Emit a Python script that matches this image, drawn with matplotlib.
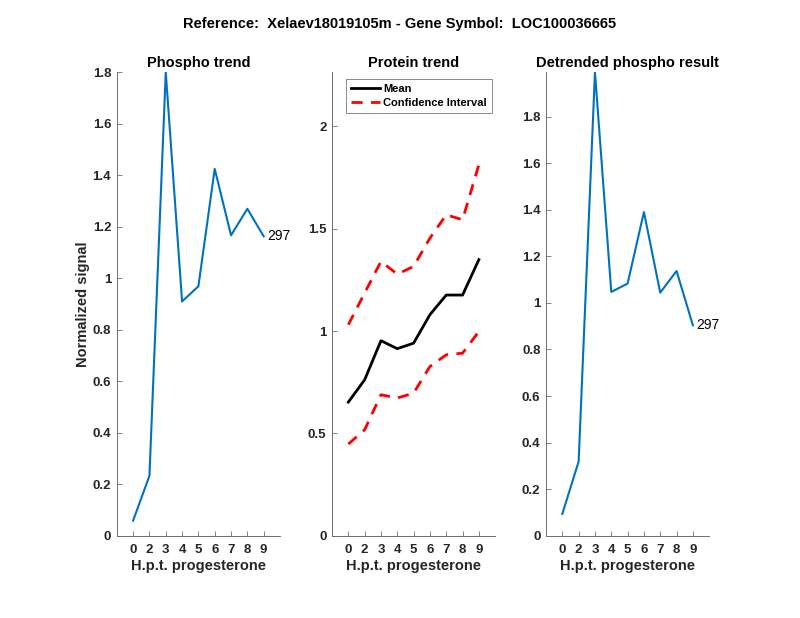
import matplotlib.pyplot as plt

plt.rcParams['font.family'] = ['Liberation Sans', 'DejaVu Sans']

hours = ['0', '2', '3', '4', '5', '6', '7', '8', '9']
phospho = [0.059, 0.233, 1.80, 0.91, 0.969, 1.425, 1.167, 1.27, 1.163]
protein_mean = [0.653, 0.762, 0.953, 0.914, 0.941, 1.08, 1.176, 1.176, 1.349]
protein_upper = [1.031, 1.186, 1.340, 1.278, 1.316, 1.454, 1.568, 1.544, 1.813]
protein_lower = [0.448, 0.518, 0.689, 0.673, 0.697, 0.827, 0.884, 0.892, 0.998]
detrended = [0.094, 0.319, 1.99, 1.047, 1.083, 1.39, 1.044, 1.137, 0.904]
site_label = '297'

blue = '#0072BD'
axcol = '#262626'
spinecol = '#6e6e6e'

fig = plt.figure(figsize=(8, 6.18), dpi=100)
fig.suptitle('Reference:  Xelaev18019105m - Gene Symbol:  LOC100036665',
             y=0.972, fontsize=10.5, fontweight='bold')

lefts = [0.146, 0.415, 0.6825]
axes = [fig.add_axes([l, 0.133, 0.204, 0.75]) for l in lefts]
xpos = list(range(1, len(hours) + 1))


def style(ax, title, yticks, ylabels):
    ax.set_xlim(0, 10)
    ax.set_xticks(xpos)
    ax.set_xticklabels(hours)
    ax.set_yticks(yticks)
    ax.set_yticklabels(ylabels)
    for s in ['top', 'right']:
        ax.spines[s].set_visible(False)
    for s in ['left', 'bottom']:
        ax.spines[s].set_color(spinecol)
        ax.spines[s].set_linewidth(0.7)
    ax.tick_params(direction='in', length=3.5, width=0.6, color=spinecol,
                   labelcolor=axcol, labelsize=9.5)
    ax.tick_params(axis='x', pad=6)
    ax.tick_params(axis='y', pad=4)
    for lab in ax.get_xticklabels() + ax.get_yticklabels():
        lab.set_fontweight('bold')
    ax.set_title(title, fontsize=10.5, fontweight='bold', pad=4)
    ax.set_xlabel('H.p.t. progesterone', fontsize=10.5, fontweight='bold',
                  labelpad=2, color=axcol)


# phospho trend
ax = axes[0]
ax.plot(xpos, phospho, color=blue, lw=1.5)
ax.text(xpos[-1] + 0.2, phospho[-1], site_label, va='center', ha='left', fontsize=10)
ax.set_ylim(0, max(phospho))
style(ax, 'Phospho trend', [0, 0.2, 0.4, 0.6, 0.8, 1, 1.2, 1.4, 1.6, 1.8],
      ['0', '0.2', '0.4', '0.6', '0.8', '1', '1.2', '1.4', '1.6', '1.8'])
ax.set_ylabel('Normalized signal', fontsize=10.5, fontweight='bold', color=axcol)
ax.yaxis.set_label_coords(-0.165, 0.5)

# protein trend
ax = axes[1]
ax.plot(xpos, protein_mean, color='black', lw=2, label='Mean')
ax.plot(xpos, protein_upper, color='red', lw=2, ls=(0, (4, 3)),
        label='Confidence Interval')
ax.plot(xpos, protein_lower, color='red', lw=2, ls=(0, (4, 3)))
ax.set_ylim(0, 2.264)
style(ax, 'Protein trend', [0, 0.5, 1, 1.5, 2], ['0', '0.5', '1', '1.5', '2'])
leg = ax.legend(loc='upper left', bbox_to_anchor=(0.07, 0.99), fontsize=8,
                handlelength=2.6, frameon=True, fancybox=False,
                borderpad=0.45, labelspacing=0.35, handletextpad=0.35,
                borderaxespad=0.2)
leg.get_frame().set_edgecolor(spinecol)
leg.get_frame().set_linewidth(0.7)
for t in leg.get_texts():
    t.set_fontweight('bold')

# detrended phospho
ax = axes[2]
ax.plot(xpos, detrended, color=blue, lw=1.5)
ax.text(xpos[-1] + 0.2, detrended[-1], site_label, va='center', ha='left', fontsize=10)
ax.set_ylim(0, max(detrended))
style(ax, 'Detrended phospho result', [0, 0.2, 0.4, 0.6, 0.8, 1, 1.2, 1.4, 1.6, 1.8],
      ['0', '0.2', '0.4', '0.6', '0.8', '1', '1.2', '1.4', '1.6', '1.8'])

fig.savefig('out.png', dpi=100)
